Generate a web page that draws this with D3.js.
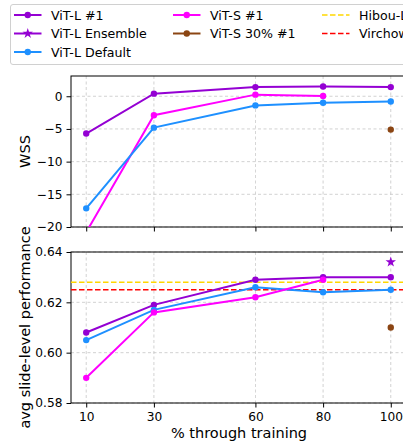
<!DOCTYPE html>
<html>
<head>
<meta charset="utf-8">
<script src="https://cdn.jsdelivr.net/npm/d3@7"></script>
<style>
  body { margin: 0; background: #fff; }
  svg { font-family: "DejaVu Sans", sans-serif; }
</style>
</head>
<body>
<svg width="403" height="441"></svg>
<script>
// data
const steps = [10, 30, 60, 80, 100];

const wssL1 = [-5.7, 0.4, 1.4, 1.5, 1.4];
const wssS1 = [-20.8, -2.9, 0.25, 0.05, null];
const wssLDefault = [-17.15, -4.8, -1.4, -1.0, -0.8];
const wssS30 = [null, null, null, null, -5.1];

const perfL1 = [0.608, 0.619, 0.629, 0.630, 0.630];
const perfS1 = [0.590, 0.616, 0.622, 0.629, null];
const perfLDefault = [0.605, 0.617, 0.626, 0.624, 0.625];
const perfS30 = [null, null, null, null, 0.610];
const perfEnsemble = [null, null, null, null, 0.636];
const hibouL = 0.628;
const virchow = 0.625;

const wssTicks = [0, -5, -10, -15, -20];
const perfTicks = [0.64, 0.62, 0.60, 0.58];

const colors = {
    vitL: "#9400D3", vitS: "#FF00FF", vitLDef: "#1E90FF",
    vitS30: "#8B4513", hibou: "#FFD700", virchow: "#FF0000"
};

const svg = d3.select("svg");
const left = 71, right = 406;

const x = d3.scaleLinear().domain([5.5, 104.5]).range([left, right]);
const yTop = d3.scaleLinear().domain([-20, 3.1]).range([227, 76]);
const yBot = d3.scaleLinear().domain([0.58, 0.64]).range([403, 252]);

const defs = svg.append("defs");
defs.append("clipPath").attr("id", "clipTop").append("rect")
    .attr("x", left).attr("y", 76).attr("width", right - left).attr("height", 151);
defs.append("clipPath").attr("id", "clipBot").append("rect")
    .attr("x", left).attr("y", 252).attr("width", right - left).attr("height", 151);

function panel(y, ticks, fmt, clipId, showX) {
    const g = svg.append("g");
    const [y0, y1] = y.range();
    // grid
    g.selectAll(".gx").data(steps).enter().append("line")
        .attr("x1", d => x(d)).attr("x2", d => x(d))
        .attr("y1", y1).attr("y2", y0)
        .attr("stroke", "#b0b0b0").attr("stroke-width", 0.8)
        .attr("stroke-dasharray", "3,2.5").attr("opacity", 0.7);
    g.selectAll(".gy").data(ticks).enter().append("line")
        .attr("x1", left).attr("x2", right)
        .attr("y1", d => y(d)).attr("y2", d => y(d))
        .attr("stroke", "#b0b0b0").attr("stroke-width", 0.8)
        .attr("stroke-dasharray", "3,2.5").attr("opacity", 0.7);

    const yAxis = g.append("g")
        .attr("transform", `translate(${left},0)`)
        .call(d3.axisLeft(y).tickValues(ticks).tickFormat(fmt).tickSize(4.5).tickPadding(4));
    yAxis.select(".domain").remove();
    yAxis.selectAll("text").attr("font-size", "12.2px").attr("fill", "#000")
        .attr("font-family", "DejaVu Sans");

    const xAxis = g.append("g")
        .attr("transform", `translate(0,${y0})`)
        .call(d3.axisBottom(x).tickValues(steps).tickSize(4.5).tickPadding(5)
            .tickFormat(showX ? d3.format("d") : ""));
    xAxis.select(".domain").remove();
    xAxis.selectAll("text").attr("font-size", "12.2px").attr("fill", "#000")
        .attr("font-family", "DejaVu Sans");

    // spines
    g.append("rect").attr("x", left).attr("y", y1)
        .attr("width", right - left).attr("height", y0 - y1)
        .attr("fill", "none").attr("stroke", "#000").attr("stroke-width", 1);

    return svg.append("g").attr("clip-path", `url(#${clipId})`);
}

function series(plot, y, vals, color, marker) {
    const pts = steps.map((s, i) => ({ s, v: vals[i] })).filter(d => d.v !== null);
    if (pts.length > 1) {
        plot.append("path").datum(pts)
            .attr("fill", "none").attr("stroke", color).attr("stroke-width", 2)
            .attr("d", d3.line().x(d => x(d.s)).y(d => y(d.v)));
    }
    const sym = marker === "star" ? d3.symbolStar : d3.symbolCircle;
    const size = marker === "star" ? 34 : 32;
    plot.selectAll(null).data(pts).enter().append("path")
        .attr("transform", d => `translate(${x(d.s)},${y(d.v)})`)
        .attr("d", d3.symbol(sym, size))
        .attr("fill", color);
}

const topPlot = panel(yTop, wssTicks, d3.format("d"), "clipTop", false);
series(topPlot, yTop, wssL1, colors.vitL);
series(topPlot, yTop, wssS1, colors.vitS);
series(topPlot, yTop, wssLDefault, colors.vitLDef);
series(topPlot, yTop, wssS30, colors.vitS30);

const botPlot = panel(yBot, perfTicks, d3.format(".2f"), "clipBot", true);
[[hibouL, colors.hibou], [virchow, colors.virchow]].forEach(([v, c]) => {
    botPlot.append("line").attr("x1", left).attr("x2", right)
        .attr("y1", yBot(v)).attr("y2", yBot(v))
        .attr("stroke", c).attr("stroke-width", 1.6).attr("stroke-dasharray", "5.5,2.5");
});
series(botPlot, yBot, perfL1, colors.vitL);
series(botPlot, yBot, perfLDefault, colors.vitLDef);
series(botPlot, yBot, perfS1, colors.vitS);
series(botPlot, yBot, perfS30, colors.vitS30);
series(botPlot, yBot, perfEnsemble, colors.vitL, "star");

// axis labels
svg.append("text").attr("transform", "translate(30,151.5) rotate(-90)")
    .attr("text-anchor", "middle").attr("font-size", "14.5px").text("WSS");
svg.append("text").attr("transform", "translate(30,327.5) rotate(-90)")
    .attr("text-anchor", "middle").attr("font-size", "14.5px").text("avg slide-level performance");
svg.append("text").attr("x", 239).attr("y", 438)
    .attr("text-anchor", "middle").attr("font-size", "14.5px").text("% through training");

// legend
const legendItems = [
    { label: "ViT-L #1", color: colors.vitL, col: 0, row: 0, m: "circle" },
    { label: "ViT-L Ensemble", color: colors.vitL, col: 0, row: 1, m: "star" },
    { label: "ViT-L Default", color: colors.vitLDef, col: 0, row: 2, m: "circle" },
    { label: "ViT-S #1", color: colors.vitS, col: 1, row: 0, m: "circle" },
    { label: "ViT-S 30% #1", color: colors.vitS30, col: 1, row: 1, m: "circle" },
    { label: "Hibou-L", color: colors.hibou, col: 2, row: 0, m: "dash" },
    { label: "Virchow", color: colors.virchow, col: 2, row: 1, m: "dash" }
];
const colX = [14, 173, 322];
const rowY = [15, 33.5, 52];
const leg = svg.append("g");
leg.append("rect").attr("x", 10.5).attr("y", 4.5).attr("width", 420).attr("height", 60)
    .attr("rx", 2.5).attr("fill", "#fff").attr("fill-opacity", 0.8)
    .attr("stroke", "#d0d0d0").attr("stroke-width", 1);
legendItems.forEach(d => {
    const g = leg.append("g").attr("transform", `translate(${colX[d.col]},${rowY[d.row]})`);
    g.append("line").attr("x1", 0).attr("x2", 27.5).attr("y1", 0).attr("y2", 0)
        .attr("stroke", d.color).attr("stroke-width", d.m === "dash" ? 1.6 : 2)
        .attr("stroke-dasharray", d.m === "dash" ? "5.5,2.5" : null);
    if (d.m !== "dash") {
        g.append("path").attr("transform", "translate(13.75,0)")
            .attr("d", d3.symbol(d.m === "star" ? d3.symbolStar : d3.symbolCircle, d.m === "star" ? 34 : 32))
            .attr("fill", d.color);
    }
    g.append("text").attr("x", 37).attr("y", 4.5).attr("font-size", "12.6px").text(d.label);
});
</script>
</body>
</html>
